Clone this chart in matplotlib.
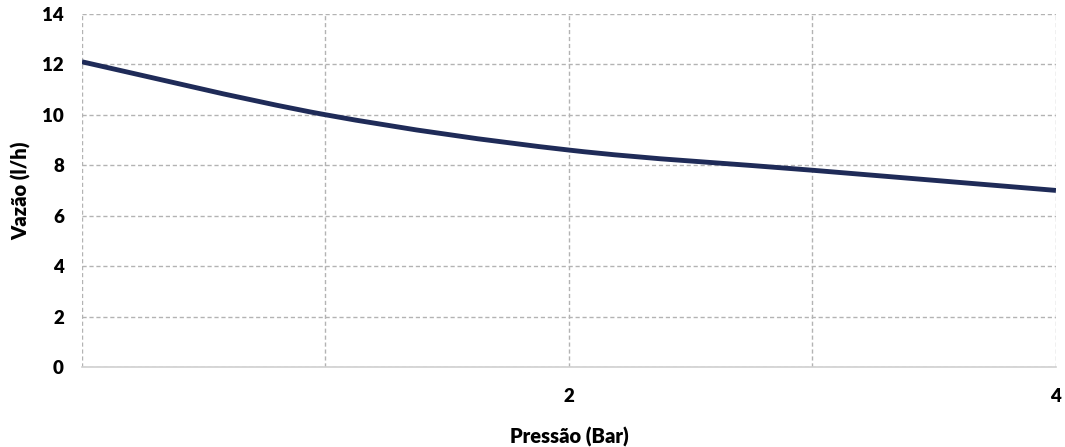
import matplotlib
matplotlib.use("Agg")
import matplotlib.pyplot as plt
from matplotlib.path import Path
from matplotlib.patches import PathPatch
import numpy as np

# Data
pressure = [0, 1, 2, 3, 4]
flow = [12.1, 10.0, 8.6, 7.8, 7.0]
x_tick_labels = ["", "", "2", "", "4"]
y_ticks = [0, 2, 4, 6, 8, 10, 12, 14]

plt.rcParams['font.family'] = ['Lato', 'DejaVu Sans']

fig = plt.figure(figsize=(10.65, 4.47), dpi=100)
ax = fig.add_axes([0.077, 0.179, 0.9145, 0.79])

# Smoothed line (Catmull-Rom -> Bezier) through the data points
xs = np.array(pressure, dtype=float)
ys = np.array(flow, dtype=float)
verts = [(xs[0], ys[0])]
codes = [Path.MOVETO]
n = len(xs)
for i in range(n - 1):
    p0 = (xs[max(i - 1, 0)], ys[max(i - 1, 0)])
    p1 = (xs[i], ys[i])
    p2 = (xs[i + 1], ys[i + 1])
    p3 = (xs[min(i + 2, n - 1)], ys[min(i + 2, n - 1)])
    t = 1 / 6
    c1 = (p1[0] + (p2[0] - p0[0]) * t, p1[1] + (p2[1] - p0[1]) * t)
    c2 = (p2[0] - (p3[0] - p1[0]) * t, p2[1] - (p3[1] - p1[1]) * t)
    verts += [c1, c2, p2]
    codes += [Path.CURVE4] * 3
patch = PathPatch(Path(verts, codes), facecolor='none', edgecolor='#1f2b58',
                  linewidth=3.5, capstyle='butt', zorder=3)
ax.add_patch(patch)

ax.set_xlim(0, 4)
ax.set_ylim(0, 14)
ax.set_xticks(pressure)
ax.set_xticklabels(x_tick_labels)
ax.set_yticks(y_ticks)

ax.grid(True, color='#b3b3b3', linestyle=(0, (3, 2)), linewidth=1.0)
ax.set_axisbelow(True)
for s in ['top', 'right', 'left']:
    ax.spines[s].set_visible(False)
ax.spines['bottom'].set_color('#d0d0d0')
ax.spines['bottom'].set_linewidth(1.2)

ax.tick_params(axis='both', length=0, labelsize=13.5, colors='black')
ax.tick_params(axis='y', pad=13)
ax.tick_params(axis='x', pad=15)
for lab in ax.get_xticklabels() + ax.get_yticklabels():
    lab.set_fontweight('heavy')

ax.set_xlabel('Pressão (Bar)', fontsize=14.5, fontweight='heavy', labelpad=16)
ax.set_ylabel('Vazão (l/h)', fontsize=14.5, fontweight='heavy', labelpad=8)

fig.savefig('out.png', dpi=100)
